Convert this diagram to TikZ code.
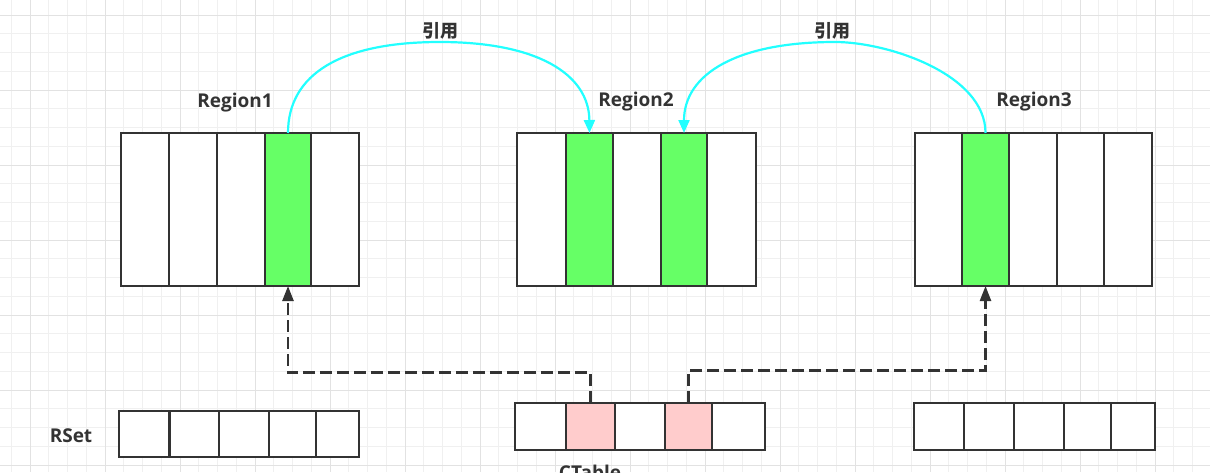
\documentclass[tikz,border=0pt]{standalone}
\usepackage{fontspec}
\setmainfont{Open Sans}
\newfontfamily\cjk{Noto Sans CJK SC}
\usetikzlibrary{arrows.meta}
\definecolor{ink}{HTML}{333333}
\definecolor{cellgreen}{HTML}{66FF66}
\definecolor{cellpink}{HTML}{FFCCCC}
\definecolor{arccyan}{HTML}{22FFFF}
\definecolor{gridminor}{HTML}{F0F0F0}
\definecolor{gridmajor}{HTML}{E2E2E2}
\newcommand\mycell[6]{\node[cellbox,fill=#6,minimum width={(#3-#2)*1pt},minimum height={(#5-#4)*1pt}] (#1) at ({(#2+#3)/2},{(#4+#5)/2}) {};}
\begin{document}
\begin{tikzpicture}[x=1pt,y=-1pt,
  cellbox/.style={draw=ink, line width=2.5pt, inner sep=0pt, outer sep=0pt},
  lbl/.style={text=ink, font=\fontsize{19}{22}\selectfont\bfseries, anchor=base, inner sep=0pt},
  cjklbl/.style={text=ink, font=\fontsize{18}{22}\selectfont\cjk\bfseries, inner sep=0pt},
  cyanarrow/.style={draw=arccyan, line width=2.2pt, -{Triangle[width=11pt,length=13pt]}},
  dasharrow/.style={draw=ink, line width=2.4pt, dash pattern=on 12pt off 5pt, -{Triangle[width=11pt,length=15pt]}}]
\useasboundingbox (0,0) rectangle (1210,472);
\clip (0,0) rectangle (1210,472);
\fill[white] (0,0) rectangle (1210,472);
% grid
\foreach \x in {11.25,30,...,1215} \draw[gridminor, line width=1pt] (\x,0) -- (\x,472);
\foreach \y in {-3.75,15,...,480} \draw[gridminor, line width=1pt] (0,\y) -- (1210,\y);
\foreach \x in {30,105,...,1215} \draw[gridmajor, line width=1pt] (\x,0) -- (\x,472);
\foreach \y in {15,90,...,480} \draw[gridmajor, line width=1pt] (0,\y) -- (1210,\y);
% Region1
\mycell{r1c1}{121}{169}{133}{286}{white}
\mycell{r1c2}{169}{217}{133}{286}{white}
\mycell{r1c3}{217}{265}{133}{286}{white}
\mycell{r1c4}{265}{311}{133}{286}{cellgreen}
\mycell{r1c5}{311}{359}{133}{286}{white}
% Region2
\mycell{r2c1}{517}{566}{133}{286}{white}
\mycell{r2c2}{566}{613}{133}{286}{cellgreen}
\mycell{r2c3}{613}{661}{133}{286}{white}
\mycell{r2c4}{661}{707}{133}{286}{cellgreen}
\mycell{r2c5}{707}{756}{133}{286}{white}
% Region3
\mycell{r3c1}{915}{962}{133}{286}{white}
\mycell{r3c2}{962}{1009}{133}{286}{cellgreen}
\mycell{r3c3}{1009}{1057}{133}{286}{white}
\mycell{r3c4}{1057}{1104}{133}{286}{white}
\mycell{r3c5}{1104}{1152}{133}{286}{white}
% RSet
\mycell{rs1}{119}{169.5}{411}{457}{white}
\mycell{rs2}{169.5}{219}{411}{457}{white}
\mycell{rs3}{219}{269}{411}{457}{white}
\mycell{rs4}{269}{316}{411}{457}{white}
\mycell{rs5}{316}{359}{411}{457}{white}
% CTable
\mycell{ct1}{515}{566}{403}{450}{white}
\mycell{ct2}{566}{615}{403}{450}{cellpink}
\mycell{ct3}{615}{665}{403}{450}{white}
\mycell{ct4}{665}{712}{403}{450}{cellpink}
\mycell{ct5}{712}{765}{403}{450}{white}
% third bottom row
\mycell{bt1}{914}{964}{403}{450}{white}
\mycell{bt2}{964}{1014}{403}{450}{white}
\mycell{bt3}{1014}{1064}{403}{450}{white}
\mycell{bt4}{1064}{1111}{403}{450}{white}
\mycell{bt5}{1111}{1155}{403}{450}{white}
% labels
\node[lbl] (l1) at (235,107.3) {Region1};
\node[lbl] (l2) at (636,106.7) {Region2};
\node[lbl] (l3) at (1034,106.7) {Region3};
\node[lbl] (l4) at (71,442.3) {RSet};
\node[lbl] (l5) at (590,479.6) {CTable};
\node[cjklbl] (y1) at (440,31) {引用};
\node[cjklbl] (y2) at (832,31) {引用};
% cyan reference arcs
\draw[cyanarrow] (r1c4.north) .. controls (288,74) and (341,42) .. (440,42) .. controls (537,42) and (589,74) .. (r2c2.north);
\draw[cyanarrow] (r3c2.north) .. controls (985.5,74) and (887.5,42) .. (835,42) .. controls (737,42) and (684,74) .. (r2c4.north);
% dashed connectors
\coordinate (j1) at (288,372.5);
\coordinate (j2) at (985.5,370.5);
\draw[dasharrow] (ct2.north) |- (j1) -- (r1c4.south);
\draw[dasharrow] (ct4.north) |- (j2) -- (r3c2.south);
\end{tikzpicture}
\end{document}
